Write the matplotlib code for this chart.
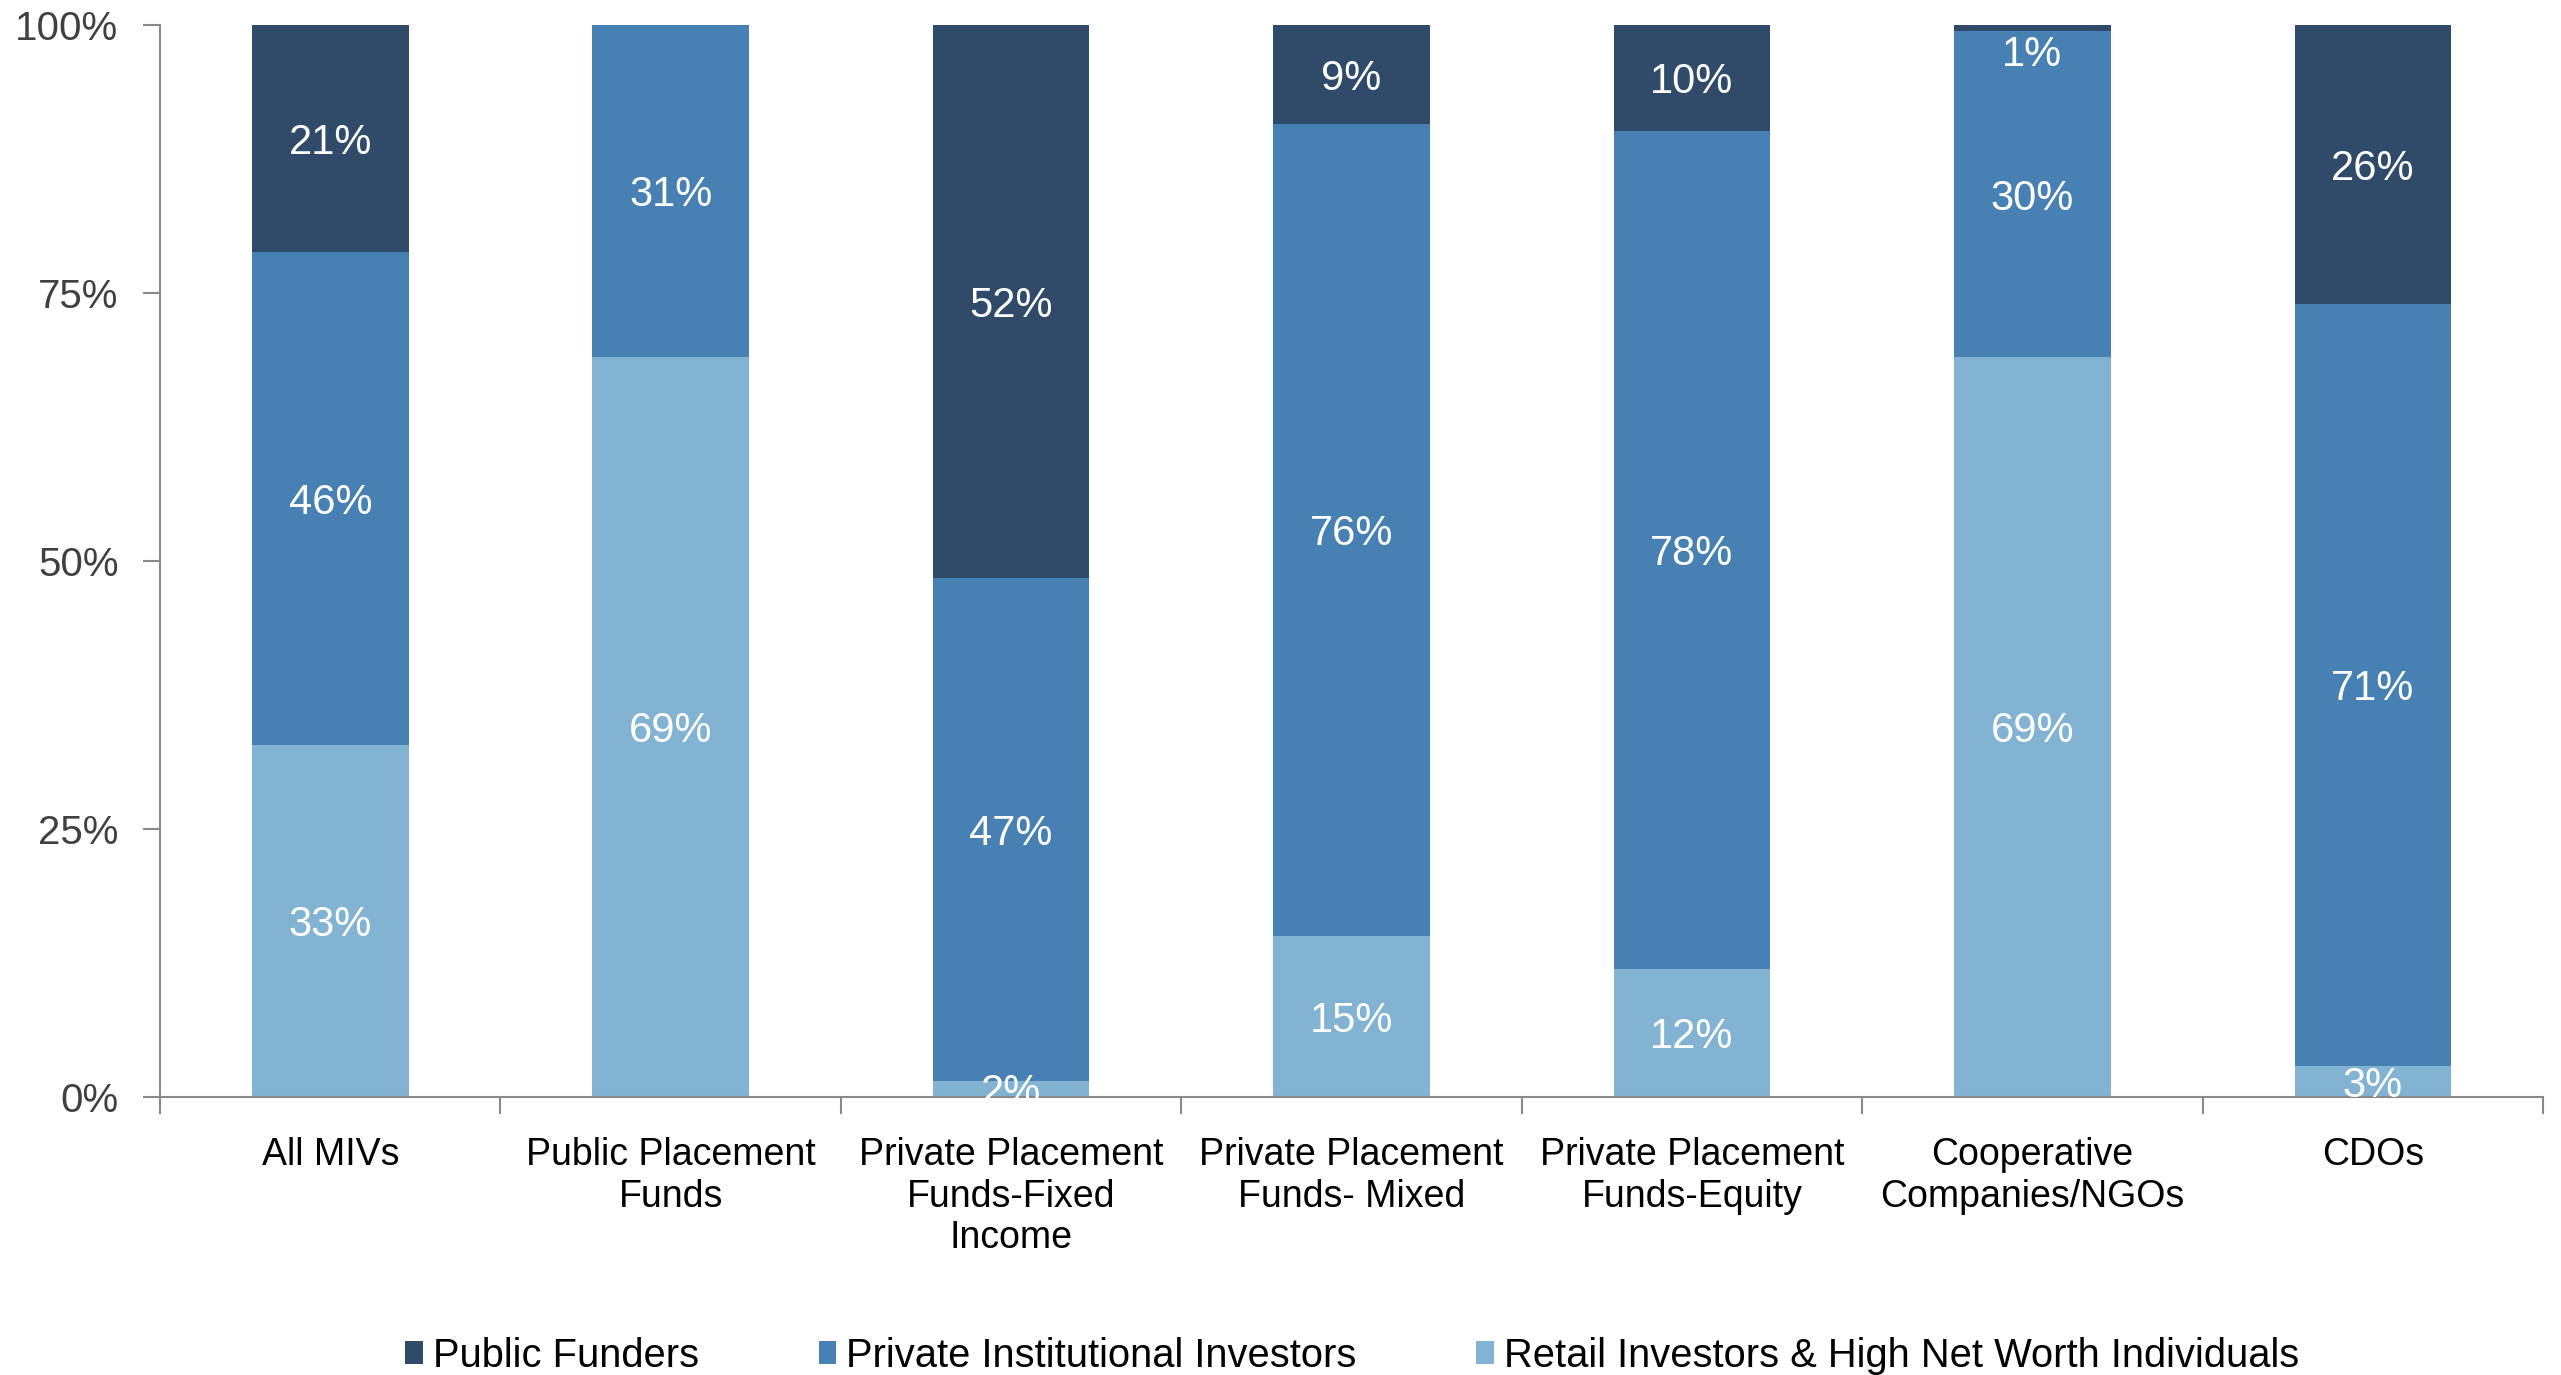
import matplotlib
matplotlib.use('Agg')
from matplotlib import pyplot as plt
from matplotlib.ticker import FixedLocator, PercentFormatter
import numpy as np

plt.rcParams['font.family'] = ['Liberation Sans', 'DejaVu Sans']

# 各类投资者所占份额（%）
categories = ['All MIVs', 'Public Placement\nFunds', 'Private Placement\nFunds-Fixed\nIncome',
              'Private Placement\nFunds- Mixed', 'Private Placement\nFunds-Equity',
              'Cooperative\nCompanies/NGOs', 'CDOs']
retail = [32.8, 69.0, 1.5, 15.0, 11.9, 69.0, 2.9]
private = [46.0, 31.0, 46.9, 75.8, 78.2, 30.4, 71.1]
public = [21.2, 0.0, 51.6, 9.2, 9.9, 0.6, 26.0]

series = [
    ('Retail Investors & High Net Worth Individuals', retail, '#82B3D3'),
    ('Private Institutional Investors', private, '#4781B3'),
    ('Public Funders', public, '#304B69'),
]

fig = plt.figure(figsize=(25.61, 13.75), dpi=100)
ax = fig.add_axes([0.0625, 0.2022, 0.9305, 0.7796])

x = np.arange(len(categories))
bottom = np.zeros(len(categories))
bars = {}
for name, vals, color in series:
    vals = np.array(vals)
    bars[name] = ax.bar(x, vals, 0.46, bottom=bottom, color=color, label=name, zorder=2)
    for xi, b, v in zip(x, bottom, vals):
        if v <= 0:
            continue
        # 顶部很薄的段，标签放到柱内
        y = min(b + v / 2, 97.6)
        ax.annotate(f'{v:.0f}%', (xi, y), xytext=(0, -3), textcoords='offset points',
                    ha='center', va='center', color='white', fontsize=30, zorder=3)
    bottom += vals

ax.set_xlim(-0.5, len(categories) - 0.5)
ax.set_ylim(0, 100)
ax.set_yticks([0, 25, 50, 75, 100])
ax.yaxis.set_major_formatter(PercentFormatter(decimals=0))
ax.set_xticks(x)
ax.set_xticklabels(categories, fontsize=27, color='black', linespacing=1.2)
ax.xaxis.set_minor_locator(FixedLocator(np.arange(-0.5, len(categories), 1.0)))
ax.tick_params(axis='x', which='major', length=0, pad=29)
ax.tick_params(axis='x', which='minor', length=12, width=1.5, color='#898989', direction='out')
ax.tick_params(axis='y', length=12, width=1.5, color='#898989', labelsize=29, labelcolor='#404040', pad=18)

for side in ['top', 'right']:
    ax.spines[side].set_visible(False)
for side in ['left', 'bottom']:
    ax.spines[side].set_color('#898989')
    ax.spines[side].set_linewidth(1.5)

handles = [bars[n] for n, _, _ in series[::-1]]
labels = [n for n, _, _ in series[::-1]]
fig.legend(handles, labels, loc='center', bbox_to_anchor=(0.528, 0.014), ncol=3, frameon=False,
           fontsize=28.7, handlelength=0.45, handleheight=0.5, handletextpad=0.25, columnspacing=3.0)

fig.savefig('out.png', dpi=100)
